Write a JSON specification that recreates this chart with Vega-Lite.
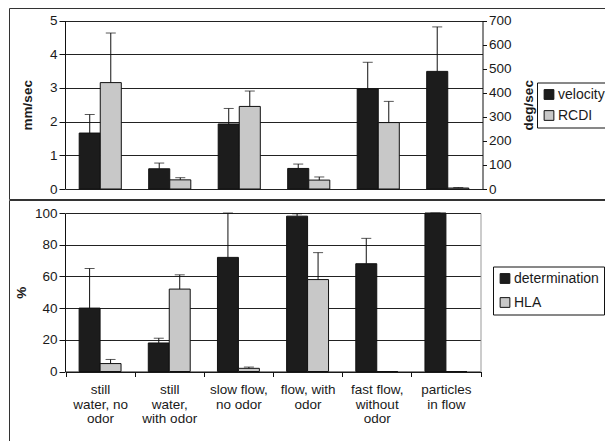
{
  "$schema": "https://vega.github.io/schema/vega-lite/v6.json",
  "padding": {"left": 8, "top": 7, "right": 0, "bottom": 0},
  "spacing": -2,
  "resolve": {"scale": {"color": "independent", "xOffset": "independent"}, "legend": {"color": "independent"}},
  "config": {
    "view": {"stroke": "#333", "strokeWidth": 1},
    "font": "Liberation Sans",
    "axis": {
      "labelFont": "Liberation Sans", "labelFontSize": 13.5, "labelColor": "#1a1a1a",
      "titleFont": "Liberation Sans", "titleFontSize": 13.5, "titleFontWeight": "bold", "titleColor": "#1a1a1a",
      "domainColor": "#111", "tickColor": "#111", "gridColor": "#222", "gridOpacity": 1, "tickSize": 6, "labelPadding": 2
    },
    "legend": {
      "labelFont": "Liberation Sans", "labelFontSize": 14, "labelColor": "#1a1a1a",
      "symbolType": "square", "symbolSize": 95, "symbolStrokeColor": "#111", "symbolStrokeWidth": 1,
      "symbolOpacity": 1, "strokeColor": "#111", "fillColor": "white", "orient": "none", "labelOffset": 2
    }
  },
  "datasets": {
    "top": [
      {"condition": "still water, no odor", "measure": "velocity", "value": 1.66, "err": 2.21},
      {"condition": "still water, with odor", "measure": "velocity", "value": 0.6, "err": 0.77},
      {"condition": "slow flow, no odor", "measure": "velocity", "value": 1.93, "err": 2.39},
      {"condition": "flow, with odor", "measure": "velocity", "value": 0.61, "err": 0.74},
      {"condition": "fast flow, without odor", "measure": "velocity", "value": 2.97, "err": 3.76},
      {"condition": "particles in flow", "measure": "velocity", "value": 3.49, "err": 4.81},
      {"condition": "still water, no odor", "measure": "RCDI", "value": 442, "err": 648},
      {"condition": "still water, with odor", "measure": "RCDI", "value": 38, "err": 47},
      {"condition": "slow flow, no odor", "measure": "RCDI", "value": 343, "err": 407},
      {"condition": "flow, with odor", "measure": "RCDI", "value": 37, "err": 50},
      {"condition": "fast flow, without odor", "measure": "RCDI", "value": 276, "err": 364},
      {"condition": "particles in flow", "measure": "RCDI", "value": 4, "err": 6}
    ],
    "bottom": [
      {"condition": "still water, no odor", "measure": "determination", "value": 40, "err": 65},
      {"condition": "still water, with odor", "measure": "determination", "value": 18, "err": 21},
      {"condition": "slow flow, no odor", "measure": "determination", "value": 72, "err": 100},
      {"condition": "flow, with odor", "measure": "determination", "value": 98, "err": 99.5},
      {"condition": "fast flow, without odor", "measure": "determination", "value": 68, "err": 84},
      {"condition": "particles in flow", "measure": "determination", "value": 100, "err": 100},
      {"condition": "still water, no odor", "measure": "HLA", "value": 5, "err": 7.6},
      {"condition": "still water, with odor", "measure": "HLA", "value": 52, "err": 61},
      {"condition": "slow flow, no odor", "measure": "HLA", "value": 2, "err": 2.8},
      {"condition": "flow, with odor", "measure": "HLA", "value": 58, "err": 75},
      {"condition": "fast flow, without odor", "measure": "HLA", "value": 0, "err": 0},
      {"condition": "particles in flow", "measure": "HLA", "value": 0, "err": 0}
    ]
  },
  "vconcat": [
    {
      "width": 600, "height": 191,
      "data": {"name": "top"},
      "encoding": {
        "x": {"field": "condition", "type": "nominal", "sort": null,
              "scale": {"range": [56.5, 473.5], "paddingInner": 0, "paddingOuter": 0}, "axis": null},
        "xOffset": {"field": "measure", "type": "nominal", "sort": ["velocity", "RCDI"],
                    "scale": {"domain": ["velocity", "RCDI"], "paddingOuter": 0.65, "paddingInner": 0}},
        "color": {"field": "measure", "type": "nominal", "sort": ["velocity", "RCDI"],
                  "scale": {"domain": ["velocity", "RCDI"], "range": ["#1c1c1c", "#c8c8c8"]},
                  "legend": {"title": null, "legendX": 528, "legendY": 74.5, "padding": 5, "rowPadding": 7}}
      },
      "layer": [
        {
          "transform": [{"filter": "datum.measure == 'velocity'"}],
          "layer": [
            {"mark": {"type": "bar", "stroke": "#111", "strokeWidth": 1},
             "encoding": {"y": {"field": "value", "type": "quantitative",
                  "scale": {"domain": [0, 5], "range": [181, 12.5], "nice": false},
                  "axis": {"title": "mm/sec", "orient": "left", "offset": -56, "values": [0, 1, 2, 3, 4, 5], "grid": true, "titlePadding": 15}}}},
            {"mark": {"type": "rule", "color": "#111", "strokeWidth": 1},
             "encoding": {"y": {"field": "value", "type": "quantitative",
                  "scale": {"domain": [0, 5], "range": [181, 12.5], "nice": false},
                  "axis": {"title": "mm/sec", "orient": "left", "offset": -56, "values": [0, 1, 2, 3, 4, 5], "grid": true, "titlePadding": 15}},
                          "y2": {"field": "err"}, "color": {"value": "#111"}}},
            {"mark": {"type": "tick", "color": "#111", "size": 10, "thickness": 1},
             "encoding": {"y": {"field": "err", "type": "quantitative",
                  "scale": {"domain": [0, 5], "range": [181, 12.5], "nice": false},
                  "axis": {"title": "mm/sec", "orient": "left", "offset": -56, "values": [0, 1, 2, 3, 4, 5], "grid": true, "titlePadding": 15}},
                          "color": {"value": "#111"}}}
          ]
        },
        {
          "transform": [{"filter": "datum.measure == 'RCDI'"}],
          "layer": [
            {"mark": {"type": "bar", "stroke": "#111", "strokeWidth": 1},
             "encoding": {"y": {"field": "value", "type": "quantitative",
                  "scale": {"domain": [0, 700], "range": [181, 12.5], "nice": false},
                  "axis": {"title": "deg/sec", "orient": "right", "offset": -126.5, "values": [0, 100, 200, 300, 400, 500, 600, 700], "grid": false, "titleAngle": 270, "titleBaseline": "top", "titlePadding": 10.5, "tickSize": 4}}}},
            {"mark": {"type": "rule", "color": "#111", "strokeWidth": 1},
             "encoding": {"y": {"field": "value", "type": "quantitative",
                  "scale": {"domain": [0, 700], "range": [181, 12.5], "nice": false},
                  "axis": {"title": "deg/sec", "orient": "right", "offset": -126.5, "values": [0, 100, 200, 300, 400, 500, 600, 700], "grid": false, "titleAngle": 270, "titleBaseline": "top", "titlePadding": 10.5, "tickSize": 4}},
                          "y2": {"field": "err"}, "color": {"value": "#111"}}},
            {"mark": {"type": "tick", "color": "#111", "size": 10, "thickness": 1},
             "encoding": {"y": {"field": "err", "type": "quantitative",
                  "scale": {"domain": [0, 700], "range": [181, 12.5], "nice": false},
                  "axis": {"title": "deg/sec", "orient": "right", "offset": -126.5, "values": [0, 100, 200, 300, 400, 500, 600, 700], "grid": false, "titleAngle": 270, "titleBaseline": "top", "titlePadding": 10.5, "tickSize": 4}},
                          "color": {"value": "#111"}}}
          ]
        }
      ],
      "resolve": {"scale": {"y": "independent"}, "axis": {"y": "independent"}}
    },
    {
      "width": 600, "height": 250,
      "data": {"name": "bottom"},
      "encoding": {
        "x": {"field": "condition", "type": "nominal", "sort": null,
              "scale": {"range": [56.5, 471.5], "paddingInner": 0, "paddingOuter": 0},
              "axis": {"title": null, "orient": "bottom", "offset": -78.5, "labelAngle": 0, "tickBand": "extent", "tickSize": 5,
                       "labelPadding": 6, "labelLineHeight": 14.5, "labelFontSize": 13.5, "grid": false,
                       "labelExpr": "datum.value == 'still water, no odor' ? ['still','water, no','odor'] : datum.value == 'still water, with odor' ? ['still','water,','with odor'] : datum.value == 'slow flow, no odor' ? ['slow flow,','no odor'] : datum.value == 'flow, with odor' ? ['flow, with','odor'] : datum.value == 'fast flow, without odor' ? ['fast flow,','without','odor'] : datum.value == 'particles in flow' ? ['particles','in flow'] : ''"}},
        "xOffset": {"field": "measure", "type": "nominal", "sort": ["determination", "HLA"],
                    "scale": {"domain": ["determination", "HLA"], "paddingOuter": 0.65, "paddingInner": 0}},
        "color": {"field": "measure", "type": "nominal", "sort": ["determination", "HLA"],
                  "scale": {"domain": ["determination", "HLA"], "range": ["#1c1c1c", "#c8c8c8"]},
                  "legend": {"title": null, "legendX": 484, "legendY": 66.5, "padding": 5, "rowPadding": 10}}
      },
      "layer": [
        {
          "transform": [{"filter": "datum.measure == 'determination'"}],
          "layer": [
            {"mark": {"type": "bar", "stroke": "#111", "strokeWidth": 1},
             "encoding": {"y": {"field": "value", "type": "quantitative",
                  "scale": {"domain": [0, 100], "range": [171.5, 13], "nice": false},
                  "axis": {"title": "%", "orient": "left", "offset": -56, "values": [0, 20, 40, 60, 80, 100], "grid": true, "titlePadding": 6}}}},
            {"mark": {"type": "rule", "color": "#111", "strokeWidth": 1},
             "encoding": {"y": {"field": "value", "type": "quantitative",
                  "scale": {"domain": [0, 100], "range": [171.5, 13], "nice": false},
                  "axis": {"title": "%", "orient": "left", "offset": -56, "values": [0, 20, 40, 60, 80, 100], "grid": true, "titlePadding": 6}},
                          "y2": {"field": "err"}, "color": {"value": "#111"}}},
            {"mark": {"type": "tick", "color": "#111", "size": 10, "thickness": 1},
             "encoding": {"y": {"field": "err", "type": "quantitative",
                  "scale": {"domain": [0, 100], "range": [171.5, 13], "nice": false},
                  "axis": {"title": "%", "orient": "left", "offset": -56, "values": [0, 20, 40, 60, 80, 100], "grid": true, "titlePadding": 6}},
                          "color": {"value": "#111"}}}
          ]
        },
        {
          "transform": [{"filter": "datum.measure == 'HLA'"}],
          "layer": [
            {"mark": {"type": "bar", "stroke": "#111", "strokeWidth": 1},
             "encoding": {"y": {"field": "value", "type": "quantitative",
                  "scale": {"domain": [0, 100], "range": [171.5, 13], "nice": false},
                  "axis": {"title": null, "orient": "right", "offset": -128.5, "labels": false, "ticks": false, "grid": false, "domainColor": "#999"}}}},
            {"mark": {"type": "rule", "color": "#111", "strokeWidth": 1},
             "encoding": {"y": {"field": "value", "type": "quantitative",
                  "scale": {"domain": [0, 100], "range": [171.5, 13], "nice": false},
                  "axis": {"title": null, "orient": "right", "offset": -128.5, "labels": false, "ticks": false, "grid": false, "domainColor": "#999"}},
                          "y2": {"field": "err"}, "color": {"value": "#111"}}},
            {"mark": {"type": "tick", "color": "#111", "size": 10, "thickness": 1},
             "encoding": {"y": {"field": "err", "type": "quantitative",
                  "scale": {"domain": [0, 100], "range": [171.5, 13], "nice": false},
                  "axis": {"title": null, "orient": "right", "offset": -128.5, "labels": false, "ticks": false, "grid": false, "domainColor": "#999"}},
                          "color": {"value": "#111"}}}
          ]
        }
      ],
      "resolve": {"axis": {"y": "independent"}}
    }
  ]
}
